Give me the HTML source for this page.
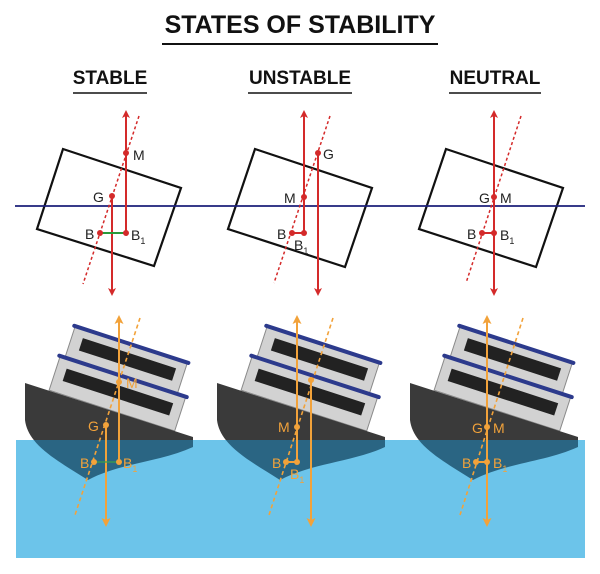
<!DOCTYPE html>
<html><head><meta charset="utf-8"><style>
html,body{margin:0;padding:0;background:#fff;}
svg{display:block;}
text{font-family:"Liberation Sans",sans-serif;}
</style></head><body>
<svg width="600" height="574" viewBox="0 0 600 574" xmlns="http://www.w3.org/2000/svg">
<defs>
<marker id="ar" markerWidth="8" markerHeight="8" refX="4" refY="4" orient="auto" markerUnits="userSpaceOnUse">
<path d="M0,0 L8,4 L0,8 L2,4 Z" fill="#d42a2a"/></marker>
<marker id="ao" markerWidth="9" markerHeight="9" refX="4" refY="4.5" orient="auto" markerUnits="userSpaceOnUse">
<path d="M0,0 L9,4.5 L0,9 L2,4.5 Z" fill="#f2a23a"/></marker>
<clipPath id="above"><rect x="0" y="0" width="600" height="440"/></clipPath>
<clipPath id="below"><rect x="0" y="440" width="600" height="140"/></clipPath>
<g id="ship">
  <g transform="rotate(18,110,410)">
    <rect x="51" y="342" width="118" height="33" fill="#d2d2d2" stroke="#8a8a8a" stroke-width="1"/>
    <rect x="62" y="350" width="98" height="13" fill="#222"/>
    <rect x="48" y="339" width="124" height="4" rx="2" fill="#2c3a8c"/>
    <rect x="46" y="375" width="132" height="35" fill="#d2d2d2" stroke="#8a8a8a" stroke-width="1"/>
    <rect x="56" y="384" width="112" height="13" fill="#222"/>
    <rect x="43" y="372" width="138" height="4" rx="2" fill="#2c3a8c"/>
  </g>
  <path id="hull" d="M25,383 L193,437 L193,447 C160,462 120,463 88,480 C60,462 28,446 25,420 Z" fill="#3a3a3a" clip-path="url(#above)"/>
  <path d="M25,383 L193,437 L193,447 C160,462 120,463 88,480 C60,462 28,446 25,420 Z" fill="#2a6583" clip-path="url(#below)"/>
</g>
</defs>

<text x="300" y="33" font-size="25" font-weight="bold" text-anchor="middle" fill="#111">STATES OF STABILITY</text>
<line x1="162" y1="44" x2="438" y2="44" stroke="#111" stroke-width="2"/>
<text x="110" y="84" font-size="19" font-weight="bold" text-anchor="middle" fill="#111">STABLE</text>
<line x1="73" y1="93" x2="147" y2="93" stroke="#111" stroke-width="1.5"/>
<text x="300" y="84" font-size="19" font-weight="bold" text-anchor="middle" fill="#111">UNSTABLE</text>
<line x1="248" y1="93" x2="352" y2="93" stroke="#111" stroke-width="1.5"/>
<text x="495" y="84" font-size="19" font-weight="bold" text-anchor="middle" fill="#111">NEUTRAL</text>
<line x1="449" y1="93" x2="541" y2="93" stroke="#111" stroke-width="1.5"/>

<!-- rectangles -->
<g fill="none" stroke="#111" stroke-width="2.2">
<polygon points="63,149 181,188 154,266 37,229"/>
<polygon points="255,149 372,188 345,267 228,229"/>
<polygon points="446,149 563,188 536,267 419,229"/>
</g>
<line x1="15" y1="206" x2="585" y2="206" stroke="#1c1f7a" stroke-width="1.8"/>

<g stroke="#d42a2a" fill="none" stroke-width="2">
<!-- stable -->
<line x1="139" y1="116" x2="83" y2="284" stroke-dasharray="3,2.5" stroke-width="1.5"/>
<line x1="126" y1="233" x2="126" y2="114" marker-end="url(#ar)"/>
<line x1="112" y1="196" x2="112" y2="292" marker-end="url(#ar)"/>
<!-- unstable -->
<line x1="330" y1="116" x2="274" y2="283" stroke-dasharray="3,2.5" stroke-width="1.5"/>
<line x1="304" y1="233" x2="304" y2="114" marker-end="url(#ar)"/>
<line x1="318" y1="153" x2="318" y2="292" marker-end="url(#ar)"/>
<!-- neutral -->
<line x1="521" y1="116" x2="466" y2="283" stroke-dasharray="3,2.5" stroke-width="1.5"/>
<line x1="494" y1="210" x2="494" y2="114" marker-end="url(#ar)"/>
<line x1="494" y1="200" x2="494" y2="292" marker-end="url(#ar)"/>
</g>
<g stroke="#2a9a3a" stroke-width="2">
<line x1="100" y1="233" x2="126" y2="233"/>
</g>
<g stroke="#d42a2a" stroke-width="2">
<line x1="292" y1="233" x2="304" y2="233"/>
<line x1="482" y1="233" x2="494" y2="233"/>
</g>
<g fill="#d42a2a">
<circle cx="126" cy="153" r="3"/><circle cx="112" cy="196" r="3"/><circle cx="100" cy="233" r="3"/><circle cx="126" cy="233" r="3"/>
<circle cx="318" cy="153" r="3"/><circle cx="304" cy="197" r="3"/><circle cx="292" cy="233" r="3"/><circle cx="304" cy="233" r="3"/>
<circle cx="494" cy="197" r="3"/><circle cx="482" cy="233" r="3"/><circle cx="494" cy="233" r="3"/>
</g>
<g font-size="14" fill="#222">
<text x="133" y="160">M</text><text x="93" y="202">G</text><text x="85" y="239">B</text><text x="131" y="240">B<tspan font-size="9" dy="4">1</tspan></text>
<text x="323" y="159">G</text><text x="284" y="203">M</text><text x="277" y="239">B</text><text x="294" y="250">B<tspan font-size="9" dy="4">1</tspan></text>
<text x="479" y="203">G</text><text x="500" y="203">M</text><text x="467" y="239">B</text><text x="500" y="240">B<tspan font-size="9" dy="4">1</tspan></text>
</g>

<!-- water -->
<rect x="16" y="440" width="569" height="118" fill="#6cc4ea"/>

<use href="#ship"/>
<use href="#ship" transform="translate(192,0)"/>
<use href="#ship" transform="translate(385,0)"/>

<g stroke="#f2a23a" fill="none" stroke-width="2">
<!-- stable -->
<line x1="140" y1="318" x2="75" y2="515" stroke-dasharray="4,3" stroke-width="1.6"/>
<line x1="119" y1="462" x2="119" y2="320" marker-end="url(#ao)"/>
<line x1="106" y1="425" x2="106" y2="522" marker-end="url(#ao)"/>
<line x1="94" y1="462" x2="119" y2="462" stroke="#3aa04a" stroke-width="1.2"/>
<!-- unstable -->
<line x1="333" y1="318" x2="269" y2="515" stroke-dasharray="4,3" stroke-width="1.6"/>
<line x1="297" y1="462" x2="297" y2="320" marker-end="url(#ao)"/>
<line x1="311" y1="380" x2="311" y2="522" marker-end="url(#ao)"/>
<line x1="286" y1="462" x2="297" y2="462"/>
<!-- neutral -->
<line x1="523" y1="318" x2="460" y2="515" stroke-dasharray="4,3" stroke-width="1.6"/>
<line x1="487" y1="462" x2="487" y2="320" marker-end="url(#ao)"/>
<line x1="487" y1="427" x2="487" y2="522" marker-end="url(#ao)"/>
<line x1="476" y1="462" x2="487" y2="462"/>
</g>
<g fill="#f2a23a">
<circle cx="119" cy="382" r="3"/><circle cx="106" cy="425" r="3"/><circle cx="94" cy="462" r="3"/><circle cx="119" cy="462" r="3"/>
<circle cx="311" cy="380" r="3"/><circle cx="297" cy="427" r="3"/><circle cx="286" cy="462" r="3"/><circle cx="297" cy="462" r="3"/>
<circle cx="487" cy="427" r="3"/><circle cx="476" cy="462" r="3"/><circle cx="487" cy="462" r="3"/>
</g>
<g font-size="14" fill="#f2a23a">
<text x="126" y="388">M</text><text x="88" y="431">G</text><text x="80" y="468">B</text><text x="123" y="468">B<tspan font-size="9" dy="4">1</tspan></text>
<text x="278" y="432">M</text><text x="272" y="468">B</text><text x="290" y="479">B<tspan font-size="9" dy="4">1</tspan></text>
<text x="472" y="433">G</text><text x="493" y="433">M</text><text x="462" y="468">B</text><text x="493" y="468">B<tspan font-size="9" dy="4">1</tspan></text>
</g>
</svg>
</body></html>
